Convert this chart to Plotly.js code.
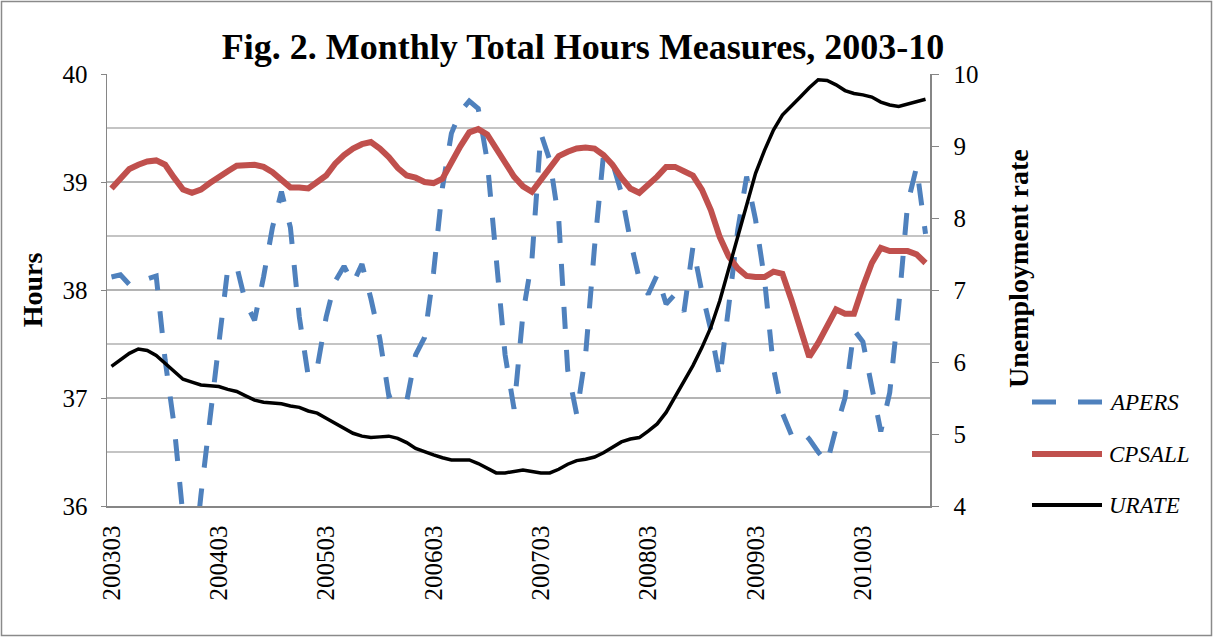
<!DOCTYPE html>
<html>
<head>
<meta charset="utf-8">
<script src="https://cdn.plot.ly/plotly-3.0.1.min.js"></script>
<style>html,body{margin:0;padding:0;background:#fff;}#chart{width:1213px;height:637px;}</style>
</head>
<body>
<div id="chart"></div>
<script>
const months = [
"200303","200304","200305","200306","200307","200308","200309","200310","200311","200312",
"200401","200402","200403","200404","200405","200406","200407","200408","200409","200410","200411","200412",
"200501","200502","200503","200504","200505","200506","200507","200508","200509","200510","200511","200512",
"200601","200602","200603","200604","200605","200606","200607","200608","200609","200610","200611","200612",
"200701","200702","200703","200704","200705","200706","200707","200708","200709","200710","200711","200712",
"200801","200802","200803","200804","200805","200806","200807","200808","200809","200810","200811","200812",
"200901","200902","200903","200904","200905","200906","200907","200908","200909","200910","200911","200912",
"201001","201002","201003","201004","201005","201006","201007","201008","201009","201010"];

const xTickLabels = ["200303","200403","200503","200603","200703","200803","200903","201003"];

const apers = [
38.12,38.14,38.05,38.08,38.10,38.13,37.35,36.75,35.90,35.30,
36.10,36.80,37.50,38.20,38.22,37.88,37.72,38.12,38.58,38.91,
38.58,37.75,37.20,37.28,37.75,38.08,38.22,38.06,38.24,37.92,
37.55,37.02,37.05,36.97,37.40,37.56,38.16,38.95,39.45,39.65,
39.75,39.68,39.20,38.33,37.40,36.90,37.78,38.28,39.45,39.20,
38.65,37.26,36.85,37.40,38.40,39.25,39.18,38.90,38.46,38.10,
37.96,38.14,37.87,37.96,37.80,38.40,37.98,37.63,37.18,37.85,
38.55,39.05,38.65,38.10,37.28,36.86,36.66,36.71,36.62,36.50,
36.40,36.72,37.00,37.63,37.52,37.10,36.69,37.05,37.85,38.80,
39.14,38.52];

const cpsall = [
38.94,39.03,39.12,39.16,39.19,39.20,39.16,39.04,38.93,38.90,
38.93,38.99,39.05,39.10,39.15,39.15,39.16,39.14,39.09,39.02,
38.95,38.95,38.94,39.00,39.06,39.17,39.25,39.31,39.35,39.37,
39.31,39.23,39.13,39.06,39.04,39.00,38.99,39.03,39.19,39.33,
39.46,39.49,39.44,39.31,39.17,39.05,38.96,38.91,39.02,39.14,
39.24,39.28,39.31,39.32,39.31,39.25,39.16,39.04,38.94,38.90,
38.97,39.05,39.14,39.14,39.10,39.06,38.93,38.74,38.49,38.31,
38.20,38.13,38.12,38.12,38.17,38.15,37.91,37.66,37.38,37.51,
37.68,37.82,37.78,37.78,38.03,38.25,38.39,38.36,38.36,38.36,
38.33,38.25];

const urate = [
5.94,6.03,6.12,6.18,6.16,6.09,5.98,5.86,5.76,5.72,
5.68,5.67,5.66,5.62,5.59,5.53,5.47,5.44,5.43,5.42,
5.39,5.37,5.32,5.29,5.22,5.15,5.07,5.01,4.97,4.95,
4.96,4.97,4.94,4.88,4.80,4.75,4.71,4.67,4.64,4.64,
4.64,4.59,4.52,4.46,4.46,4.48,4.50,4.48,4.46,4.46,
4.51,4.58,4.63,4.65,4.68,4.74,4.82,4.89,4.93,4.95,
5.04,5.14,5.30,5.51,5.72,5.95,6.20,6.48,6.85,7.29,
7.74,8.20,8.62,8.94,9.22,9.43,9.55,9.68,9.81,9.92,
9.91,9.85,9.77,9.73,9.71,9.68,9.61,9.57,9.55,9.58,
9.62,9.65];

const seriesNames = ["APERS","CPSALL","URATE"];
const seriesColors = ["#4F81BD","#C0504D","#000000"];
const hoursTicks = [36,37,38,39,40];
const hoursMinor = [36.5,37.5,38.5,39.5];
const rateTicks = [4,5,6,7,8,9,10];

const FONT = "Liberation Serif, Times New Roman, serif";
const L = 107, R = 930, T = 74, B = 506, W = 1213, H = 637;
const px = v => (v - L) / (R - L);
const py = v => (B - v) / (B - T);

const traces = [
  {x: months, y: apers, name: seriesNames[0], type: "scatter", mode: "lines",
   line: {color: seriesColors[0], width: 5, dash: "22px,21px"}, yaxis: "y", showlegend: false},
  {x: months, y: cpsall, name: seriesNames[1], type: "scatter", mode: "lines",
   line: {color: seriesColors[1], width: 6}, yaxis: "y", showlegend: false},
  {x: months, y: urate, name: seriesNames[2], type: "scatter", mode: "lines",
   line: {color: seriesColors[2], width: 3.5}, yaxis: "y2", showlegend: false}
];

const legendY = [402, 454, 505];
const shapes = [
  {type: "rect", xref: "paper", yref: "paper", x0: px(1.5), x1: px(1211.5), y0: py(635.5), y1: py(1.5),
   line: {color: "#8A8A8A", width: 1.5}},
];
const annotations = [
  {xref: "paper", yref: "paper", x: px(1018), y: py(269), xanchor: "center", yanchor: "middle",
   text: "<b>Unemployment rate</b>", textangle: -90, showarrow: false,
   font: {family: FONT, size: 28, color: "#000"}}
];
seriesNames.forEach((n, i) => {
  shapes.push({type: "line", xref: "paper", yref: "paper",
    x0: px(1032), x1: px(1102), y0: py(legendY[i]), y1: py(legendY[i]),
    line: {color: seriesColors[i], width: i === 0 ? 5 : (i === 1 ? 6 : 4), dash: i === 0 ? "24px,22px" : "solid"}});
  annotations.push({xref: "paper", yref: "paper", x: px(1107), y: py(legendY[i]), xanchor: "left", yanchor: "middle",
    text: "<i>" + n + "</i>", showarrow: false, font: {family: FONT, size: 23, color: "#000"}});
});

const layout = {
  width: W, height: H,
  margin: {l: L, r: W - R, t: T, b: H - B, pad: 0},
  paper_bgcolor: "#fff", plot_bgcolor: "#fff",
  font: {family: FONT, color: "#000"},
  title: {text: "Fig. 2. Monthly Total Hours Measures, 2003-10", x: 583 / W, xanchor: "center",
          y: 1 - 46 / H, yanchor: "middle", yref: "container",
          font: {family: FONT, size: 36, weight: 700, color: "#000"}},
  xaxis: {type: "category", range: [-0.5, months.length - 0.5], tickmode: "array", tickvals: xTickLabels,
          ticktext: xTickLabels, tickangle: -90, ticks: "", showgrid: false, showline: true,
          linecolor: "#868686", linewidth: 1.5, tickfont: {family: FONT, size: 25}, ticklabelstandoff: 8,
          fixedrange: true, automargin: false},
  yaxis: {range: [36, 40], tickmode: "array", tickvals: hoursTicks, showgrid: true, gridcolor: "#B4B4B4",
          gridwidth: 1.3, showline: true, linecolor: "#868686", linewidth: 1.5, ticks: "outside", ticklen: 5,
          tickcolor: "#868686", tickfont: {family: FONT, size: 25}, ticklabelstandoff: 8, zeroline: false,
          minor: {tickvals: hoursMinor, showgrid: true, gridcolor: "#C4C4C4", gridwidth: 1.3, ticks: ""},
          title: {text: "<b>Hours</b>", font: {family: FONT, size: 28}, standoff: 11}, automargin: false},
  yaxis2: {range: [4, 10], overlaying: "y", side: "right", tickmode: "array", tickvals: rateTicks,
           showgrid: false, showline: true, linecolor: "#868686", linewidth: 1.5, ticks: "outside", ticklen: 7,
           tickcolor: "#868686", tickfont: {family: FONT, size: 25}, ticklabelstandoff: 10, zeroline: false,
           automargin: false},
  shapes: shapes,
  annotations: annotations,
  showlegend: false
};

Plotly.newPlot("chart", traces, layout, {displayModeBar: false, staticPlot: true});
</script>
</body>
</html>
